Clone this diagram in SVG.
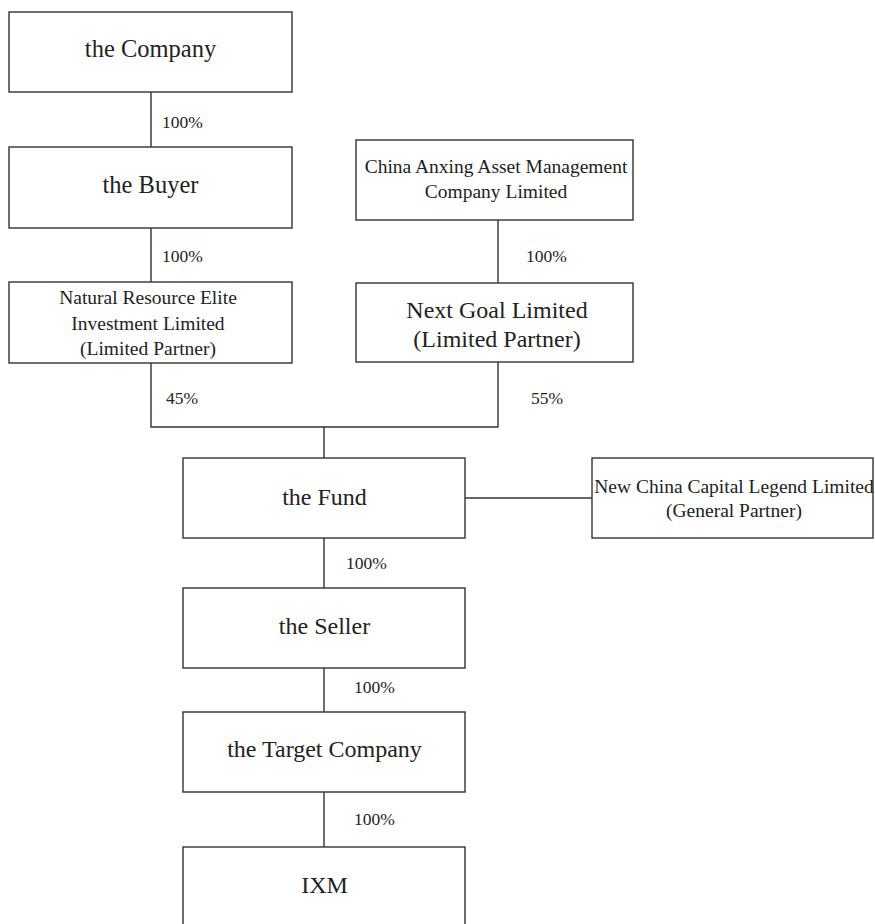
<svg xmlns="http://www.w3.org/2000/svg" width="875" height="924" viewBox="0 0 875 924">
<style>
.box{fill:#fff;stroke:#333;stroke-width:1.4}
.ln{fill:none;stroke:#333;stroke-width:1.4}
text{font-family:"Liberation Serif","Times New Roman",serif;fill:#222;text-anchor:middle}
.big{font-size:24.5px}
.mid{font-size:24px}
.sm{font-size:19.5px}
.pct{font-size:17.5px;text-anchor:start}
</style>
<rect width="875" height="924" fill="#fff"/>
<g id="connectors">
<path class="ln" d="M151 92V147M151 228V282M498 220V283M151 363V427H498V362M324 427V458M465 498H592M324 538V588M324 668V712M324 792V847"/>
<text class="pct" x="162" y="128">100%</text>
<text class="pct" x="162" y="262">100%</text>
<text class="pct" x="526" y="262">100%</text>
<text class="pct" x="166" y="404">45%</text>
<text class="pct" x="531" y="404">55%</text>
<text class="pct" x="346" y="569">100%</text>
<text class="pct" x="354" y="693">100%</text>
<text class="pct" x="354" y="825">100%</text>
</g>
<g id="company"><rect class="box" x="9" y="12" width="283" height="80"/><text class="big" x="150.5" y="57">the Company</text></g>
<g id="buyer"><rect class="box" x="9" y="147" width="283" height="81"/><text class="big" x="150.5" y="193">the Buyer</text></g>
<g id="nre"><rect class="box" x="9" y="282" width="283" height="81"/><text class="sm" x="148" y="304">Natural Resource Elite</text><text class="sm" x="148" y="330">Investment Limited</text><text class="sm" x="148" y="355">(Limited Partner)</text></g>
<g id="anxing"><rect class="box" x="356" y="140" width="277" height="80"/><text class="sm" x="496" y="173">China Anxing Asset Management</text><text class="sm" x="496" y="198">Company Limited</text></g>
<g id="nextgoal"><rect class="box" x="356" y="283" width="277" height="79"/><text class="mid" x="497" y="318">Next Goal Limited</text><text class="mid" x="497" y="347">(Limited Partner)</text></g>
<g id="fund"><rect class="box" x="183" y="458" width="282" height="80"/><text class="mid" x="324.5" y="505">the Fund</text></g>
<g id="nccl"><rect class="box" x="592" y="458" width="281" height="80"/><text class="sm" x="734" y="493">New China Capital Legend Limited</text><text class="sm" x="734" y="517">(General Partner)</text></g>
<g id="seller"><rect class="box" x="183" y="588" width="282" height="80"/><text class="mid" x="324.5" y="634">the Seller</text></g>
<g id="target"><rect class="box" x="183" y="712" width="282" height="80"/><text class="mid" x="324.5" y="757">the Target Company</text></g>
<g id="ixm"><rect class="box" x="183" y="847" width="282" height="90"/><text class="mid" x="324.5" y="893">IXM</text></g>
</svg>
